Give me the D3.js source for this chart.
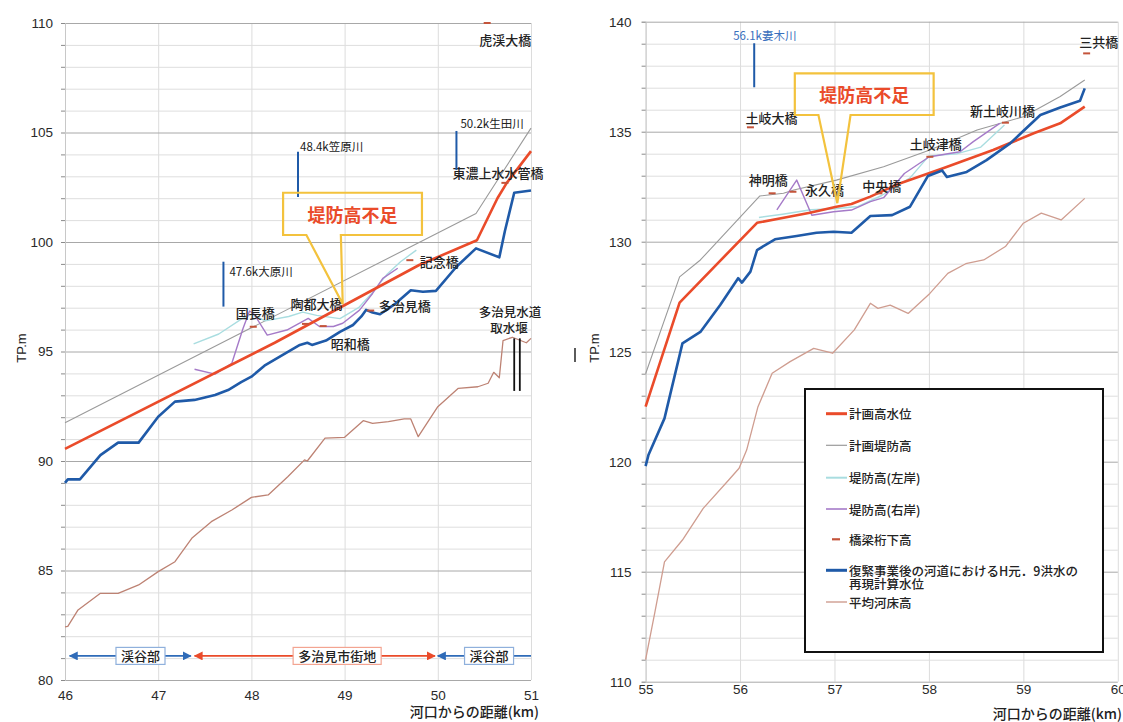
<!DOCTYPE html>
<html>
<head>
<meta charset="utf-8">
<script src="https://cdn.jsdelivr.net/npm/d3@7"></script>
<style>
  body { margin: 0; background: #fff; }
  svg text { font-family: "Noto Sans CJK JP", "Noto Sans", sans-serif; }
  .num { font-family: "Liberation Sans", Arial, sans-serif; }
</style>
</head>
<body>
<svg id="chart" width="1123" height="722"></svg>
<script>
// ---------------- Left section (46–51 km) ----------------
const leftXTicks = [46, 47, 48, 49, 50, 51];
const leftYTicks = [80, 85, 90, 95, 100, 105, 110];

// [distance km, elevation TP m]
const leftPlanHWL = [[46,90.55],[48.25,95.4],[49.8,98.95],[50.42,100.08],[50.64,102.0],[50.74,102.7],[51.0,104.15]];
const leftPlanLevee = [[46,91.75],[50.41,101.3],[51.0,105.2]];
const leftLeveeL = [[47.38,95.35],[47.65,95.8],[47.9,96.5],[48.0,96.7],[48.15,96.4],[48.4,96.6],[48.55,96.8],[48.7,96.65],[48.95,96.5],[49.15,97.0],[49.3,97.7],[49.45,98.5],[49.6,99.1],[49.77,99.63]];
const leftLeveeR = [[47.39,94.19],[47.61,93.97],[47.79,94.46],[47.91,96.05],[47.98,96.85],[48.03,96.7],[48.17,95.75],[48.38,95.98],[48.61,96.51],[48.73,96.14],[48.88,96.14],[48.98,96.29],[49.16,96.89],[49.3,97.65],[49.41,98.34],[49.57,98.8]];
const leftFloodH1 = [[46,89.0],[46.03,89.16],[46.16,89.16],[46.38,90.27],[46.57,90.84],[46.79,90.84],[47.0,92.02],[47.18,92.71],[47.39,92.79],[47.61,93.01],[47.75,93.24],[47.89,93.6],[48.0,93.85],[48.14,94.35],[48.3,94.75],[48.52,95.3],[48.6,95.4],[48.65,95.3],[48.8,95.5],[48.95,95.9],[49.09,96.21],[49.18,96.6],[49.23,96.9],[49.3,96.78],[49.38,96.7],[49.55,97.2],[49.71,97.8],[49.84,97.73],[49.98,97.77],[50.2,98.87],[50.41,99.71],[50.66,99.3],[50.72,100.5],[50.82,102.25],[51.0,102.35]];
const leftBed = [[46,82.43],[46.03,82.45],[46.14,83.2],[46.38,83.96],[46.57,83.96],[46.79,84.34],[47.0,84.95],[47.18,85.4],[47.36,86.47],[47.57,87.23],[47.79,87.76],[48.0,88.34],[48.18,88.45],[48.39,89.28],[48.57,90.05],[48.6,90.0],[48.79,91.04],[49.0,91.08],[49.2,91.84],[49.3,91.72],[49.47,91.8],[49.64,91.92],[49.71,91.92],[49.79,91.11],[50.0,92.48],[50.22,93.32],[50.43,93.39],[50.54,93.55],[50.6,94.05],[50.66,93.8],[50.7,95.5],[50.8,95.65],[50.95,95.4],[51.0,95.6]];

const leftBridgeNames = ['虎渓大橋','東濃上水水管橋','記念橋','多治見橋','陶都大橋','昭和橋','国長橋'];
const leftBridgeKm    = [50.53, 50.72, 49.70, 49.28, 48.58, 48.77, 48.02];
const leftBridgeElev  = [110.0, 102.7, 99.17, 96.87, 96.26, 96.16, 96.13];

const leftTribNames = ['47.6k大原川','48.4k笠原川','50.2k生田川'];
const leftTribKm    = [47.70, 48.50, 50.20];
const leftTribTop   = [99.1, 104.12, 105.07];
const leftTribBase  = [97.05, 102.06, 103.29];

const leftWeirName = ['多治見水道','取水堰'];
const leftWeirKm   = [50.82, 50.88];
const leftWeirTop  = 95.6, leftWeirBase = 93.2;

const regionNames = ['渓谷部','多治見市街地','渓谷部'];
const regionFrom  = [46.05, 47.39, 50.0];
const regionTo    = [47.35, 49.97, 51.0];
const regionMid   = [46.81, 48.92, 50.55];
const regionKind  = ['valley','town','valley'];
const regionElev  = 81.1;

// ---------------- Right section (55–60 km) ----------------
const rightXTicks = [55, 56, 57, 58, 59, 60];
const rightYTicks = [110, 115, 120, 125, 130, 135, 140];

const rightPlanHWL = [[55.0,122.5],[55.36,127.23],[56.18,130.86],[56.49,131.11],[56.74,131.32],[57.02,131.59],[57.18,131.71],[57.38,132.05],[57.69,132.65],[58.15,133.34],[58.68,134.17],[59.11,134.93],[59.39,135.38],[59.65,136.14]];
const rightPlanLevee = [[55.0,124.0],[55.36,128.4],[55.58,129.17],[56.21,132.08],[56.46,132.2],[56.57,132.35],[57.02,132.8],[57.52,133.41],[58.01,134.17],[58.51,135.08],[59.0,135.68],[59.39,136.6],[59.65,137.35]];
const rightLeveeL = [[56.2,131.1],[56.45,131.25],[56.75,131.45],[57.0,131.5],[57.25,131.6],[57.5,132.1],[57.8,132.9],[58.0,133.9],[58.3,134.0],[58.55,134.3],[58.8,135.3]];
const rightLeveeR = [[56.39,131.45],[56.6,132.8],[56.76,131.2],[56.99,131.36],[57.18,131.44],[57.38,131.82],[57.52,132.0],[57.74,133.1],[58.0,133.85],[58.2,134.0],[58.33,134.09],[58.47,134.55],[58.75,135.38]];
const rightFloodH1 = [[55.0,119.8],[55.03,120.3],[55.2,121.97],[55.39,125.38],[55.58,125.9],[55.79,127.12],[55.98,128.34],[56.02,128.14],[56.11,128.64],[56.18,129.62],[56.37,130.11],[56.6,130.26],[56.81,130.41],[56.99,130.45],[57.18,130.41],[57.38,131.17],[57.61,131.21],[57.8,131.59],[57.99,132.99],[58.14,133.24],[58.19,132.94],[58.4,133.17],[58.61,133.71],[58.86,134.47],[59.18,135.76],[59.39,136.1],[59.6,136.41],[59.65,136.97]];
const rightBed = [[55.0,111.0],[55.1,113.2],[55.2,115.45],[55.39,116.44],[55.61,117.88],[55.88,119.17],[55.99,119.7],[56.07,120.53],[56.19,122.5],[56.34,124.02],[56.53,124.55],[56.78,125.15],[56.98,124.93],[57.21,125.99],[57.38,127.2],[57.46,126.97],[57.59,127.12],[57.78,126.74],[58.01,127.65],[58.2,128.56],[58.39,129.0],[58.58,129.17],[58.81,129.78],[59.0,130.84],[59.19,131.3],[59.4,130.99],[59.65,131.97]];

const rightBridgeNames = ['三共橋','新土岐川橋','土岐津橋','中央橋','永久橋','神明橋','土岐大橋'];
const rightBridgeKm    = [59.67, 58.81, 58.01, 57.47, 56.56, 56.34, 56.11];
const rightBridgeElev  = [138.56, 135.41, 133.86, 132.2, 132.27, 132.2, 135.2];

const rightTribNames = ['56.1k妻木川'];
const rightTribKm    = [56.15];
const rightTribTop   = [139.02];
const rightTribBase  = [137.02];

// Callouts: box corners, tail base and tip in data units
const calloutText = '堤防高不足';
const leftCallout  = {x0:48.34, x1:49.83, yTop:102.25, yBot:100.32, baseL:48.59, baseR:48.96, tipX:48.98, tipY:97.17};
const rightCallout = {x0:56.58, x1:58.05, yTop:137.65, yBot:135.76, baseL:56.83, baseR:57.17, tipX:57.03, tipY:131.75};

const legendLabels = ['計画高水位','計画堤防高','堤防高(左岸)','堤防高(右岸)','橋梁桁下高',['復緊事業後の河道におけるH元．9洪水の','再現計算水位'],'平均河床高'];
const xAxisTitle = '河口からの距離(km)';
const yAxisTitle = 'TP.m';

// ---------------- styles ----------------
const C = {
  hwl: '#ea4b2a', levee: '#9a9a9a', leveeL: '#a9dde0', leveeR: '#a57ac8',
  bridge: '#c4543a', flood: '#1f5aa8', bed: '#bd8273', bedLight: '#cf9d90', trib: '#1f5aa8',
  callout: '#f3c23d', calloutText: '#ea4b2a'
};

const svg = d3.select('#chart');
svg.append('rect').attr('width', 1123).attr('height', 722).attr('fill', '#fff');

function panel(cfg) {
  const x = d3.scaleLinear().domain(cfg.xDomain).range(cfg.xRange);
  const y = d3.scaleLinear().domain(cfg.yDomain).range(cfg.yRange);
  const g = svg.append('g');
  const plotW = cfg.xRange[1] - cfg.xRange[0];
  const plotH = cfg.yRange[0] - cfg.yRange[1];
  const minorVals = d3.range(cfg.yDomain[0], cfg.yDomain[1] + 1, 1);
  const fmt = d3.format('d');

  // vertical grid
  g.append('g').attr('transform', `translate(0,${cfg.yRange[0]})`)
    .call(d3.axisBottom(x).tickValues(cfg.xTicks).tickSize(-plotH).tickFormat(''))
    .call(s => s.select('.domain').remove())
    .selectAll('line').attr('stroke', '#dcdcdc').attr('stroke-width', 1);
  // minor horizontal grid
  g.append('g').attr('transform', `translate(${cfg.xRange[0]},0)`)
    .call(d3.axisLeft(y).tickValues(minorVals.filter(v => v % 5 !== 0)).tickSize(-plotW).tickFormat(''))
    .call(s => s.select('.domain').remove())
    .selectAll('line').attr('stroke', '#dedede').attr('stroke-width', 1);
  // major horizontal grid
  g.append('g').attr('transform', `translate(${cfg.xRange[0]},0)`)
    .call(d3.axisLeft(y).tickValues(cfg.yTicks).tickSize(-plotW).tickFormat(''))
    .call(s => s.select('.domain').remove())
    .selectAll('line').attr('stroke', '#a8a8a8').attr('stroke-width', 1);
  // small ticks left of axis
  g.append('g').attr('transform', `translate(${cfg.xRange[0]},0)`)
    .call(d3.axisLeft(y).tickValues(minorVals).tickSize(4).tickFormat(''))
    .call(s => s.select('.domain').attr('stroke', '#c8c8c8'))
    .selectAll('line').attr('stroke', '#8a8a8a');
  // y tick labels
  g.append('g').attr('transform', `translate(${cfg.xRange[0]},0)`)
    .call(d3.axisLeft(y).tickValues(cfg.yTicks).tickSize(0).tickPadding(cfg.yPad).tickFormat(fmt))
    .call(s => s.select('.domain').remove())
    .selectAll('text').attr('class', 'num').attr('font-size', 13.5).attr('fill', '#2a2a2a');
  // x tick labels
  g.append('g').attr('transform', `translate(0,${cfg.yRange[0]})`)
    .call(d3.axisBottom(x).tickValues(cfg.xTicks).tickSize(0).tickPadding(cfg.xPad).tickFormat(fmt))
    .call(s => s.select('.domain').remove())
    .selectAll('text').attr('class', 'num').attr('font-size', 13.5).attr('fill', '#2a2a2a');

  return { g, x, y };
}

function drawSeries(p, s, bedColor) {
  const line = d3.line().x(d => p.x(d[0])).y(d => p.y(d[1]));
  const order = [
    [s.bed, bedColor, 1.3], [s.levee, C.levee, 1.1], [s.leveeL, C.leveeL, 1.4],
    [s.leveeR, C.leveeR, 1.4], [s.hwl, C.hwl, 2.6], [s.flood, C.flood, 2.6]
  ];
  order.forEach(([data, col, w]) => {
    p.g.append('path').datum(data).attr('d', line)
      .attr('fill', 'none').attr('stroke', col).attr('stroke-width', w)
      .attr('stroke-linejoin', 'round');
  });
}

function drawBridges(p, names, km, elev, place) {
  names.forEach((n, i) => {
    const cx = p.x(km[i]), cy = p.y(elev[i]);
    p.g.append('line').attr('x1', cx - 3.5).attr('x2', cx + 3.5).attr('y1', cy).attr('y2', cy)
      .attr('stroke', C.bridge).attr('stroke-width', 2);
    const o = place[n];
    p.g.append('text').attr('x', cx + o[0]).attr('y', cy + o[1])
      .attr('text-anchor', o[2]).attr('dominant-baseline', 'central')
      .attr('font-size', 13).attr('font-weight', 500).attr('fill', '#222').text(n);
  });
}

function drawTribs(p, names, km, top, base, place, color) {
  names.forEach((n, i) => {
    const cx = p.x(km[i]);
    p.g.append('line').attr('x1', cx).attr('x2', cx).attr('y1', p.y(top[i])).attr('y2', p.y(base[i]))
      .attr('stroke', C.trib).attr('stroke-width', 2);
    const o = place[n];
    p.g.append('text').attr('x', cx + o[0]).attr('y', p.y(top[i]) + o[1])
      .attr('dominant-baseline', 'central').attr('font-size', 11.5)
      .attr('fill', color || '#222').text(n);
  });
}

function drawCallout(p, c) {
  const path = d3.path();
  path.moveTo(p.x(c.x0), p.y(c.yTop));
  path.lineTo(p.x(c.x1), p.y(c.yTop));
  path.lineTo(p.x(c.x1), p.y(c.yBot));
  path.lineTo(p.x(c.baseR), p.y(c.yBot));
  path.lineTo(p.x(c.tipX), p.y(c.tipY));
  path.lineTo(p.x(c.baseL), p.y(c.yBot));
  path.lineTo(p.x(c.x0), p.y(c.yBot));
  path.closePath();
  p.g.append('path').attr('d', path.toString()).attr('fill', 'none')
    .attr('stroke', C.callout).attr('stroke-width', 2.2).attr('stroke-linejoin', 'miter');
  p.g.append('text').attr('x', (p.x(c.x0) + p.x(c.x1)) / 2).attr('y', (p.y(c.yTop) + p.y(c.yBot)) / 2)
    .attr('text-anchor', 'middle').attr('dominant-baseline', 'central')
    .attr('font-size', 18).attr('font-weight', 700).attr('fill', C.calloutText).text(calloutText);
}

// two-line label as one text element
function twoLine(g, x, y, lines, size, gap, anchor, xs) {
  const t = g.append('text').attr('text-anchor', anchor || 'start')
    .attr('font-size', size).attr('font-weight', 500).attr('fill', '#222');
  lines.forEach((s, k) => {
    t.append('tspan').attr('x', xs ? xs[k] : x).attr('y', y + k * gap)
      .attr('dominant-baseline', 'central').text(s);
  });
  return t;
}

// ---------------- left panel ----------------
const L = panel({ xDomain: [46, 51], xRange: [65, 531], yDomain: [80, 110], yRange: [680, 23],
  xTicks: leftXTicks, yTicks: leftYTicks, yPad: 12, xPad: 10 });
drawSeries(L, { hwl: leftPlanHWL, levee: leftPlanLevee, leveeL: leftLeveeL, leveeR: leftLeveeR, flood: leftFloodH1, bed: leftBed }, C.bed);

// weir: double black bars
leftWeirKm.forEach(k => {
  L.g.append('line').attr('x1', L.x(k)).attr('x2', L.x(k)).attr('y1', L.y(leftWeirTop)).attr('y2', L.y(leftWeirBase))
    .attr('stroke', '#111').attr('stroke-width', 1.8);
});
twoLine(L.g, 510, L.y(leftWeirTop) - 27, leftWeirName, 12.5, 16, 'middle', [510, 509]);

drawBridges(L, leftBridgeNames, leftBridgeKm, leftBridgeElev, {
  '虎渓大橋': [18, 16, 'middle'], '東濃上水水管橋': [-7, -10, 'middle'], '記念橋': [10, 1, 'start'],
  '多治見橋': [8, -5, 'start'], '陶都大橋': [11, -20, 'middle'], '昭和橋': [27, 17, 'middle'], '国長橋': [2, -14, 'middle']
});
drawTribs(L, leftTribNames, leftTribKm, leftTribTop, leftTribBase, {
  '47.6k大原川': [6, 9], '48.4k笠原川': [2, -6], '50.2k生田川': [4, -8]
});
drawCallout(L, leftCallout);

// valley / town section arrows
const defs = svg.append('defs');
[['blueHead', '#2f6bb8'], ['redHead', '#ea4b2a']].forEach(([id, col]) => {
  defs.append('marker').attr('id', id).attr('viewBox', '0 0 10 10').attr('refX', 9).attr('refY', 5)
    .attr('markerWidth', 9).attr('markerHeight', 9).attr('markerUnits', 'userSpaceOnUse').attr('orient', 'auto-start-reverse')
    .append('path').attr('d', 'M0,0L10,5L0,10z').attr('fill', col);
});
regionNames.forEach((n, i) => {
  const valley = regionKind[i] === 'valley';
  const col = valley ? '#2f6bb8' : '#ea4b2a';
  const head = valley ? 'url(#blueHead)' : 'url(#redHead)';
  const yy = L.y(regionElev);
  const ln = L.g.append('line').attr('x1', L.x(regionFrom[i])).attr('x2', L.x(regionTo[i]))
    .attr('y1', yy).attr('y2', yy).attr('stroke', col).attr('stroke-width', 1.6)
    .attr('marker-start', head);
  if (regionTo[i] < 51) ln.attr('marker-end', head);
  const t = L.g.append('text').attr('x', L.x(regionMid[i])).attr('y', yy)
    .attr('text-anchor', 'middle').attr('dominant-baseline', 'central')
    .attr('font-size', 13).attr('font-weight', 500).attr('fill', '#222').text(n);
  const bb = t.node().getBBox();
  L.g.insert('rect', () => t.node()).attr('x', bb.x - 5).attr('y', yy - 8.5).attr('width', bb.width + 10).attr('height', 17)
    .attr('fill', '#fff').attr('stroke', valley ? '#8fb0dc' : '#f3a491').attr('stroke-width', 1.2);
});

// ---------------- right panel ----------------
const R = panel({ xDomain: [55, 60], xRange: [645.6, 1117.8], yDomain: [110, 140], yRange: [681.7, 21.7],
  xTicks: rightXTicks, yTicks: rightYTicks, yPad: 14, xPad: 3 });
drawSeries(R, { hwl: rightPlanHWL, levee: rightPlanLevee, leveeL: rightLeveeL, leveeR: rightLeveeR, flood: rightFloodH1, bed: rightBed }, C.bedLight);
drawBridges(R, rightBridgeNames, rightBridgeKm, rightBridgeElev, {
  '三共橋': [12, -12, 'middle'], '新土岐川橋': [-3, -12, 'middle'], '土岐津橋': [6, -13, 'middle'],
  '中央橋': [3, -8, 'middle'], '永久橋': [12, -2, 'start'], '神明橋': [-4, -14, 'middle'], '土岐大橋': [21, -10, 'middle']
});
drawTribs(R, rightTribNames, rightTribKm, rightTribTop, rightTribBase, { '56.1k妻木川': [-21, -8] }, '#3a70bd');
drawCallout(R, rightCallout);

// legend
const lg = svg.append('g');
lg.append('rect').attr('x', 805).attr('y', 389).attr('width', 298).attr('height', 263)
  .attr('fill', '#fff').attr('stroke', '#111').attr('stroke-width', 2);
const legendColors = [C.hwl, C.levee, C.leveeL, C.leveeR, C.bridge, C.flood, C.bedLight];
const legendWidths = [3, 1.2, 2, 1.6, 2.2, 3, 1.4];
const legendYs = [413.7, 445.3, 477.7, 509, 539.3, 570.3, 602];
legendLabels.forEach((t, i) => {
  const isBridge = i === 4;
  lg.append('line').attr('x1', isBridge ? 832 : 826).attr('x2', isBridge ? 840 : 847)
    .attr('y1', legendYs[i]).attr('y2', legendYs[i])
    .attr('stroke', legendColors[i]).attr('stroke-width', legendWidths[i]);
  twoLine(lg, 849, legendYs[i], Array.isArray(t) ? t : [t], 12.5, 13.5, 'start');
});

// axis titles
[[21, 348], [594, 348]].forEach(([xx, yy]) => {
  svg.append('text').attr('class', 'num').attr('transform', `translate(${xx},${yy}) rotate(-90)`)
    .attr('text-anchor', 'middle').attr('dominant-baseline', 'central')
    .attr('font-size', 13).attr('fill', '#222').text(yAxisTitle);
});
svg.append('line').attr('x1', 575).attr('x2', 575).attr('y1', 348).attr('y2', 362).attr('stroke', '#333').attr('stroke-width', 1.6);
svg.append('text').attr('x', 539).attr('y', 711).attr('text-anchor', 'end').attr('dominant-baseline', 'central')
  .attr('font-size', 14).attr('font-weight', 500).attr('fill', '#222').text(xAxisTitle);
svg.append('text').attr('x', 1122).attr('y', 713).attr('text-anchor', 'end').attr('dominant-baseline', 'central')
  .attr('font-size', 14).attr('font-weight', 500).attr('fill', '#222').text(xAxisTitle);
</script>
</body>
</html>
